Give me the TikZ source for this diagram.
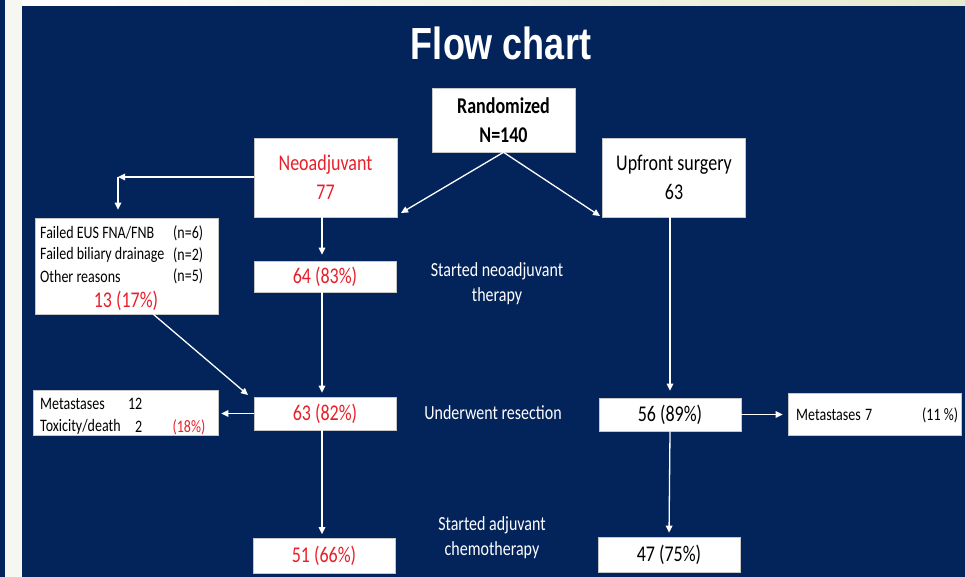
\documentclass[tikz,border=0pt]{standalone}
\usepackage{fontspec}
\setmainfont{Carlito}[FakeStretch=0.8]
\newfontfamily\titlefont{Liberation Sans}
\usetikzlibrary{arrows.meta}
\definecolor{navy}{HTML}{03245A}
\definecolor{fcred}{HTML}{E8202A}
\definecolor{stripe}{HTML}{E6EBCF}
\definecolor{offwhite}{HTML}{F6F7F0}
\begin{document}
\begin{tikzpicture}[x=1pt,y=-1pt,
  box/.style={draw=gray!45, line width=0.6pt, fill=white, inner sep=0pt, align=center,
    font=\fontsize{22.5}{29}\selectfont},
  arr/.style={draw=white, line width=1.3pt, -{Triangle[length=7pt,width=6.5pt]}},
  lbl/.style={text=white, inner sep=0pt, align=center, font=\fontsize{20}{25}\selectfont},
  small/.style={inner sep=0pt, anchor=west, font=\fontsize{17.5}{20}\selectfont}
]
\useasboundingbox (0,0) rectangle (965,577);
\fill[navy] (0,0) rectangle (965,577);
\fill[offwhite] (5,0) rectangle (22,577);
\shade[left color=white, right color=stripe] (22,0) rectangle (965,6);

% title
\node[text=white, inner sep=0pt, font=\titlefont\bfseries\fontsize{45}{50}\selectfont] (title) at (501,43) {\scalebox{0.8}[1]{Flow chart}};

% boxes
\node[box, minimum width=143pt, minimum height=64pt, font=\bfseries\fontsize{22.5}{29}\selectfont] (rand) at (503.5,120) {Randomized\\N=140};
\node[box, minimum width=143pt, minimum height=79pt, text=fcred] (neo) at (325.5,177.5) {Neoadjuvant\\77};
\node[box, minimum width=143pt, minimum height=79pt] (up) at (674,177.5) {Upfront surgery\\63};
\node[box, minimum width=183pt, minimum height=96pt] (fail) at (126.5,266) {};
\node[box, minimum width=142pt, minimum height=31pt, text=fcred] (s64) at (325,276.5) {64 (83\%)};
\node[box, minimum width=185pt, minimum height=45pt] (metL) at (125.5,413) {};
\node[box, minimum width=142pt, minimum height=33pt, text=fcred] (s63) at (325,413.5) {63 (82\%)};
\node[box, minimum width=142pt, minimum height=33pt] (s56) at (670,414.5) {56 (89\%)};
\node[box, minimum width=173pt, minimum height=42pt] (met7) at (874.5,414) {};
\node[box, minimum width=142pt, minimum height=35pt, text=fcred] (s51) at (324,556) {51 (66\%)};
\node[box, minimum width=142pt, minimum height=35pt] (s47) at (669,554.5) {47 (75\%)};

% texts in the side boxes
\node[small] (f1) at (40,233) {Failed EUS FNA/FNB};
\node[small] (f1n) at (173,233) {(n=6)};
\node[small] (f2) at (40,255) {Failed biliary drainage};
\node[small] (f2n) at (173,255) {(n=2)};
\node[small] (f3) at (40,276.7) {Other reasons};
\node[small] (f3n) at (173,276.7) {(n=5)};
\node[inner sep=0pt, text=fcred, font=\fontsize{22.5}{25}\selectfont] (f13) at (126,301) {13 (17\%)};

\node[small] (m1) at (40,404) {Metastases};
\node[small, anchor=east] (m1n) at (142.5,404) {12};
\node[small] (m2) at (40,427) {Toxicity/death};
\node[small, anchor=east] (m2n) at (142.5,427) {2};
\node[small, text=fcred, anchor=center] (m2p) at (189,427) {(18\%)};

\node[small] (g1) at (796,415) {Metastases};
\node[small] (g1n) at (865,415) {7};
\node[small] (g1p) at (922,415) {(11 \%)};

% side labels
\node[lbl] (l1) at (497,284) {Started neoadjuvant\\therapy};
\node[lbl] (l2) at (493,413) {Underwent resection};
\node[lbl] (l3) at (492,538) {Started adjuvant\\chemotherapy};

% connector points
\coordinate (colL) at (322,0);
\coordinate (neoin) at (401,213);
\coordinate (upin) at (600,216);
\coordinate (corner) at (118,177);
\coordinate (failout) at (153,314);
\coordinate (s63in) at (248,395);

% connectors
\draw[arr] (rand.south) -- (neoin);
\draw[arr] (rand.south) -- (upin);
\draw[arr] (neo.west |- corner) -- (corner);
\draw[arr, shorten >=8pt] (corner) -- (corner |- fail.north);
\draw[arr, shorten >=6pt] (neo.south -| colL) -- (s64.north -| colL);
\draw[arr, shorten >=4pt] (s64.south -| colL) -- (s63.north -| colL);
\draw[arr] (failout) -- (s63in);
\draw[arr, shorten >=3pt] (s63.west) -- (metL.east |- s63.west);
\draw[arr, shorten >=4pt] (s63.south -| colL) -- (s51.north -| colL);
\draw[arr, shorten >=7pt] (up.south -| s56.north) -- (s56.north);
\draw[arr, shorten >=5pt] (s56.east) -- (met7.west |- s56.east);
\draw[arr, shorten >=4pt] (s56.south) -- (s47.north);
\end{tikzpicture}
\end{document}
